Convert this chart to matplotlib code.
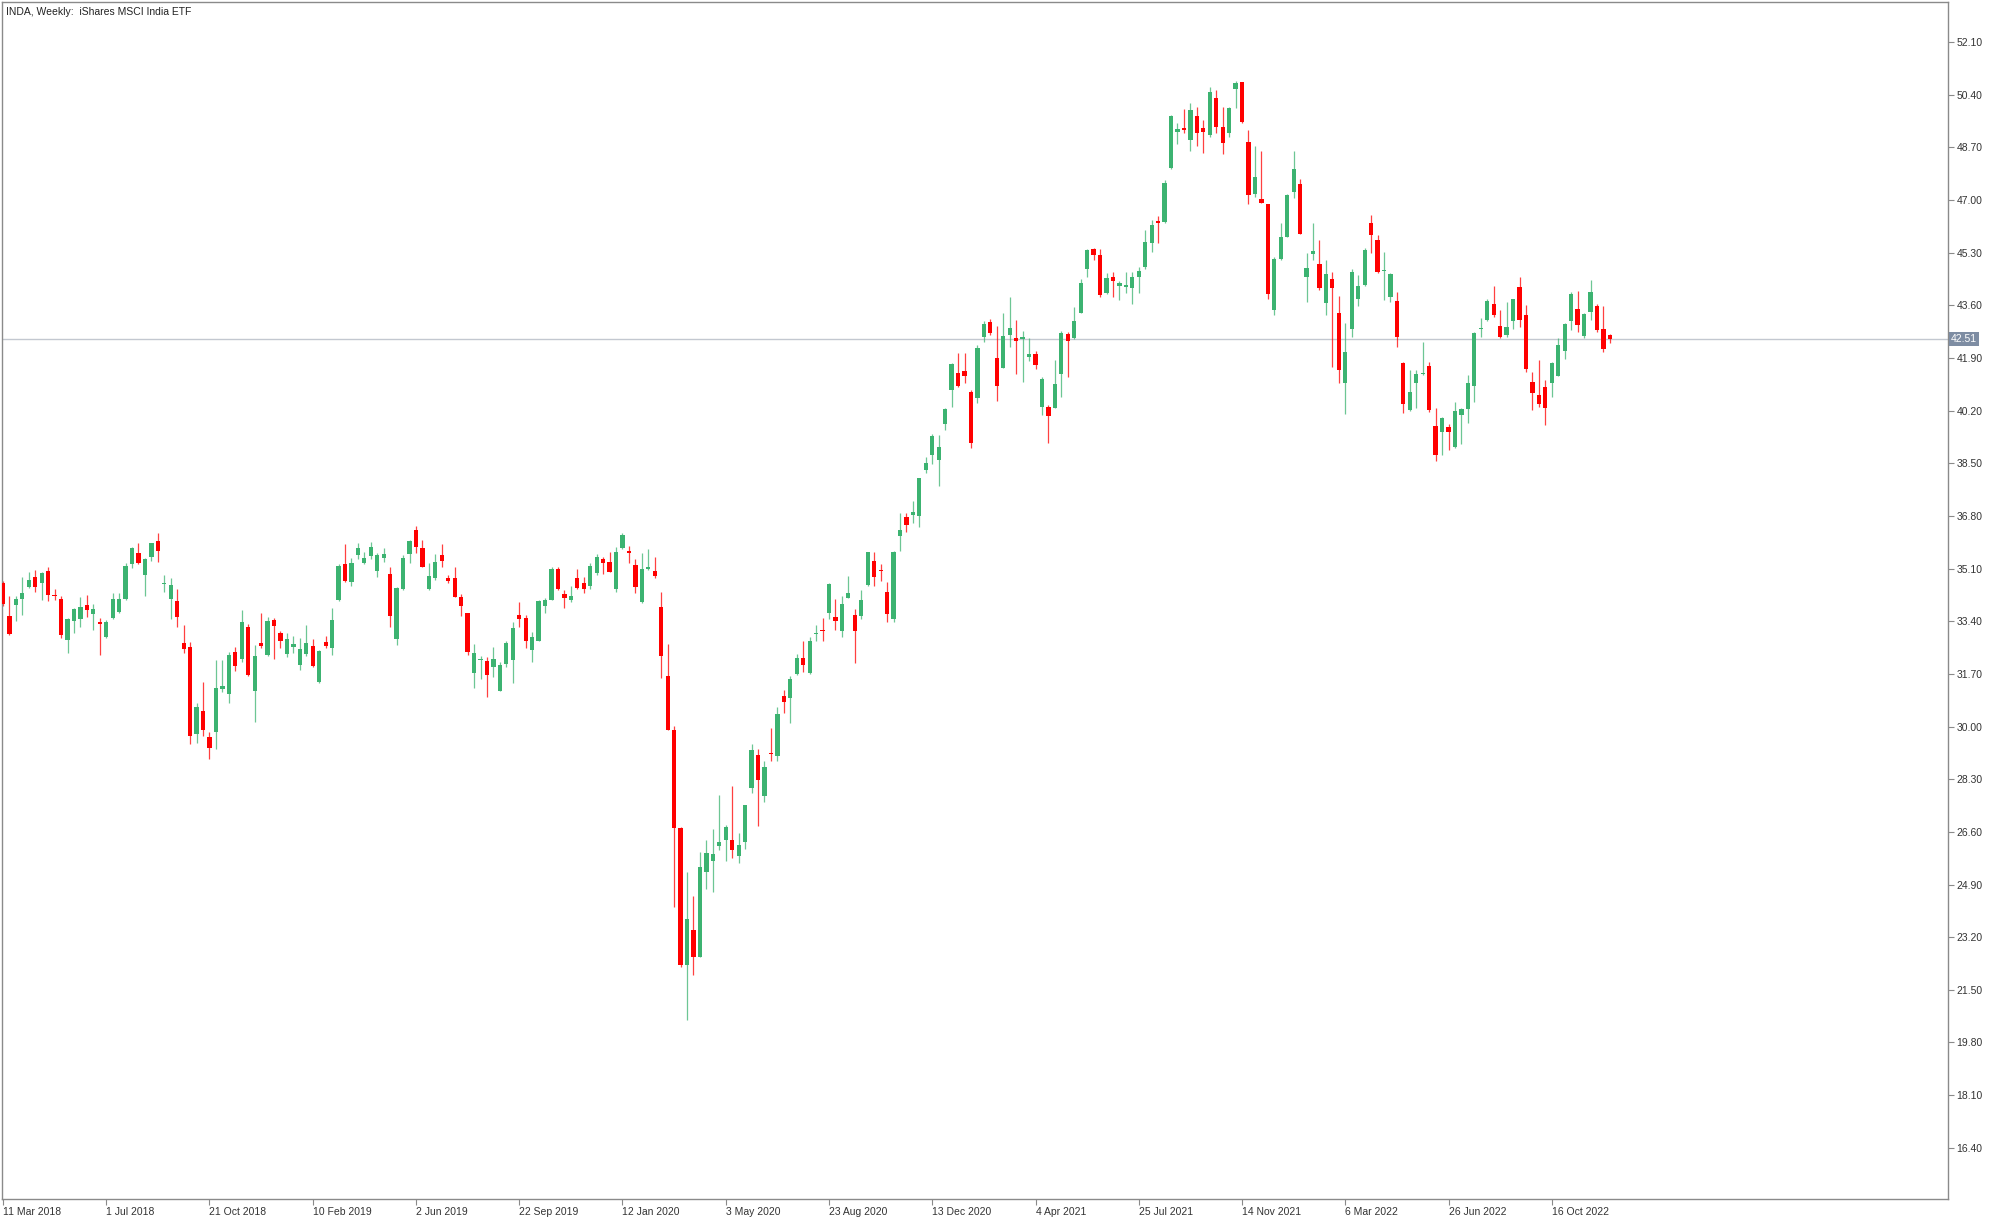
import numpy as np
import pandas as pd
import matplotlib
matplotlib.use('Agg')
import matplotlib.pyplot as plt
import matplotlib.transforms as mtransforms


# ─── Data: weekly OHLC for INDA, starting 11 Mar 2018 ─────────────────────────

start_date = '2018-03-11'

opens = [
    34.65, 33.57, 33.93, 34.12, 34.50, 34.84, 34.63, 35.03, 34.25, 34.11,
    32.78, 33.42, 33.47, 33.93, 33.64, 33.39, 32.88, 33.50, 33.71, 34.11,
    35.24, 35.60, 34.89, 35.49, 35.99, 34.60, 34.11, 34.06, 32.71, 32.56,
    29.76, 30.51, 29.65, 29.84, 31.20, 31.04, 32.40, 32.17, 33.23, 31.16,
    32.69, 32.31, 33.44, 33.03, 32.33, 32.56, 31.99, 32.33, 32.60, 31.45,
    32.72, 32.53, 34.09, 35.25, 34.68, 35.54, 35.29, 35.52, 35.03, 35.45,
    34.93, 32.82, 34.43, 35.56, 36.35, 35.78, 34.43, 34.79, 35.54, 34.79,
    34.79, 34.19, 33.66, 31.72, 32.14, 32.13, 31.91, 31.16, 32.01, 32.15,
    33.60, 33.49, 32.47, 32.77, 33.90, 34.09, 35.08, 34.28, 34.07, 34.79,
    34.65, 34.54, 34.95, 35.41, 35.32, 34.43, 35.76, 35.67, 35.22, 34.03,
    35.08, 35.02, 33.85, 31.64, 29.88, 26.71, 22.30, 23.43, 22.57, 25.31,
    25.67, 26.15, 26.33, 26.35, 25.82, 26.28, 28.03, 29.08, 27.76, 29.16,
    29.06, 30.98, 30.91, 31.69, 32.20, 31.73, 32.98, 33.13, 33.68, 33.54,
    33.09, 34.16, 33.60, 33.58, 34.57, 35.35, 35.05, 34.33, 33.46, 36.16,
    36.75, 36.83, 36.79, 38.28, 38.76, 38.62, 39.77, 40.87, 41.41, 41.49,
    40.81, 40.60, 42.59, 43.05, 41.91, 41.59, 42.64, 42.53, 42.52, 41.92,
    42.03, 40.31, 40.33, 40.30, 41.37, 42.66, 42.54, 43.35, 44.77, 45.41,
    45.23, 43.99, 44.51, 44.21, 44.19, 44.15, 44.50, 44.85, 45.61, 46.33,
    46.30, 48.02, 49.21, 49.31, 48.94, 49.71, 49.31, 49.10, 50.28, 49.35,
    49.17, 50.57, 50.80, 48.88, 47.19, 47.02, 46.87, 43.45, 45.08, 45.81,
    47.27, 47.52, 44.50, 45.26, 44.95, 43.66, 44.44, 43.36, 41.10, 42.85,
    43.79, 44.25, 46.25, 45.71, 44.71, 43.88, 43.74, 41.74, 40.22, 41.10,
    41.38, 41.64, 39.70, 39.52, 39.66, 39.03, 40.05, 40.24, 41.00, 42.82,
    43.12, 43.63, 42.94, 42.64, 43.10, 44.20, 43.28, 41.13, 40.70, 40.97,
    41.08, 41.32, 42.13, 43.10, 43.48, 42.62, 43.39, 43.57, 42.82, 42.64,
]

highs = [
    34.70, 34.20, 34.22, 34.84, 35.00, 35.06, 35.00, 35.14, 34.44, 34.20,
    33.50, 33.82, 34.18, 34.25, 33.96, 33.50, 33.44, 34.30, 34.30, 35.27,
    35.79, 35.92, 35.44, 35.94, 36.24, 34.90, 34.79, 34.44, 33.28, 32.74,
    30.75, 31.45, 29.84, 32.15, 32.15, 32.42, 32.58, 33.77, 33.31, 32.64,
    33.68, 33.55, 33.50, 33.07, 33.03, 32.91, 32.85, 33.28, 32.82, 32.47,
    32.93, 33.82, 35.24, 35.88, 35.43, 35.94, 35.62, 35.95, 35.59, 35.78,
    35.16, 34.52, 35.54, 36.02, 36.48, 36.02, 35.27, 35.56, 35.88, 34.89,
    35.14, 34.28, 33.68, 32.65, 32.29, 32.26, 32.56, 32.10, 32.77, 33.39,
    34.03, 33.60, 33.04, 34.09, 34.14, 35.16, 35.16, 34.41, 34.54, 35.08,
    34.84, 35.27, 35.57, 35.49, 35.63, 35.81, 36.24, 35.83, 35.40, 35.59,
    35.72, 35.46, 34.33, 32.65, 30.02, 26.75, 25.31, 24.52, 25.96, 26.33,
    26.68, 27.79, 26.82, 28.08, 26.55, 27.48, 29.45, 29.29, 28.89, 29.94,
    30.64, 31.17, 31.63, 32.34, 32.77, 32.90, 33.27, 33.49, 34.62, 34.11,
    34.21, 34.86, 33.81, 34.40, 35.64, 35.64, 35.24, 34.67, 35.67, 36.88,
    36.88, 37.29, 38.04, 38.69, 39.46, 39.41, 40.30, 41.75, 42.05, 42.05,
    40.87, 42.32, 43.11, 43.15, 42.93, 43.34, 43.86, 43.13, 42.78, 42.54,
    42.13, 41.28, 40.38, 41.82, 42.78, 42.75, 43.54, 44.45, 45.41, 45.44,
    45.41, 44.64, 44.66, 44.37, 44.66, 44.69, 44.85, 46.04, 46.36, 46.49,
    47.65, 49.74, 49.50, 49.93, 50.12, 50.01, 49.58, 50.66, 50.55, 49.99,
    50.01, 50.84, 50.80, 49.26, 48.74, 48.59, 46.87, 45.17, 46.27, 47.21,
    48.59, 47.67, 45.30, 46.27, 45.71, 45.06, 44.68, 43.90, 43.04, 44.76,
    44.58, 45.44, 46.51, 45.87, 45.33, 44.63, 44.02, 41.78, 41.51, 41.51,
    42.40, 41.78, 40.27, 40.00, 39.78, 40.48, 40.27, 41.35, 42.75, 43.18,
    43.79, 44.22, 43.45, 43.71, 43.82, 44.50, 43.61, 41.45, 41.85, 41.18,
    41.78, 42.53, 43.04, 44.04, 44.07, 43.34, 44.41, 43.63, 43.57, 42.66,
]

lows = [
    33.90, 32.95, 33.42, 33.60, 34.47, 34.36, 34.09, 34.04, 34.07, 32.85,
    32.39, 33.03, 33.21, 33.55, 33.12, 32.31, 32.85, 33.47, 33.68, 34.09,
    35.11, 35.24, 34.22, 35.35, 35.31, 34.36, 33.48, 33.23, 32.39, 29.43,
    29.48, 29.70, 28.94, 29.27, 31.13, 30.77, 31.78, 32.10, 31.64, 30.14,
    32.53, 32.28, 32.17, 32.53, 32.26, 32.37, 31.83, 32.28, 31.92, 31.42,
    32.53, 32.31, 34.04, 34.68, 34.55, 35.40, 35.25, 35.41, 34.84, 35.30,
    33.23, 32.63, 34.41, 35.27, 35.59, 35.14, 34.41, 34.73, 35.14, 34.63,
    34.17, 33.57, 32.31, 31.23, 31.52, 30.94, 31.61, 31.16, 31.91, 31.40,
    33.20, 32.53, 32.09, 32.77, 33.68, 34.07, 34.41, 33.84, 34.03, 34.44,
    34.30, 34.43, 34.89, 34.93, 34.99, 34.36, 35.72, 35.27, 34.32, 33.98,
    35.06, 34.79, 31.56, 29.88, 24.18, 22.25, 20.52, 21.97, 22.55, 24.77,
    24.66, 26.03, 25.67, 25.74, 25.58, 26.06, 27.84, 26.78, 27.57, 28.89,
    28.89, 30.45, 30.12, 31.66, 31.77, 31.69, 32.77, 32.77, 33.47, 33.11,
    32.88, 34.14, 32.06, 33.47, 34.54, 34.54, 34.71, 33.38, 33.38, 35.66,
    36.29, 36.56, 36.43, 38.19, 38.47, 37.76, 39.57, 40.33, 40.95, 41.08,
    38.98, 40.44, 42.43, 42.64, 40.52, 41.57, 42.27, 41.37, 41.12, 41.81,
    41.55, 40.06, 39.15, 40.28, 40.65, 41.30, 42.50, 43.34, 44.51, 45.07,
    43.88, 43.97, 43.86, 43.78, 44.01, 43.65, 44.01, 44.78, 45.32, 45.61,
    46.25, 47.99, 48.81, 49.17, 48.59, 48.74, 48.53, 49.04, 49.15, 48.48,
    49.02, 49.96, 49.50, 46.87, 47.09, 46.89, 43.82, 43.29, 45.06, 45.79,
    47.05, 45.90, 43.72, 45.06, 44.11, 43.29, 41.60, 41.10, 40.09, 42.59,
    43.58, 44.22, 45.28, 44.63, 43.77, 43.71, 42.26, 40.11, 40.19, 40.27,
    41.35, 40.16, 38.58, 38.76, 38.92, 38.98, 39.12, 39.81, 40.48, 42.58,
    43.10, 43.23, 42.56, 42.58, 42.85, 42.91, 41.45, 40.22, 40.32, 39.73,
    40.65, 41.31, 41.88, 42.80, 42.75, 42.56, 43.12, 42.75, 42.08, 42.39,
]

closes = [
    33.96, 32.98, 34.12, 34.30, 34.74, 34.50, 34.97, 34.25, 34.20, 32.95,
    33.46, 33.79, 33.85, 33.75, 33.79, 33.30, 33.36, 34.11, 34.12, 35.19,
    35.76, 35.27, 35.40, 35.92, 35.67, 34.62, 34.57, 33.55, 32.50, 29.68,
    30.62, 29.89, 29.30, 31.24, 31.31, 32.31, 31.94, 33.39, 31.67, 32.28,
    32.60, 33.41, 33.26, 32.77, 32.82, 32.66, 32.51, 32.69, 31.97, 32.45,
    32.60, 33.44, 35.17, 34.70, 35.27, 35.75, 35.43, 35.81, 35.54, 35.57,
    33.57, 34.46, 35.45, 35.99, 35.81, 35.16, 34.86, 35.32, 35.36, 34.71,
    34.19, 33.89, 32.42, 32.36, 32.17, 31.66, 32.17, 31.99, 32.71, 33.17,
    33.47, 32.77, 32.90, 34.05, 34.09, 35.08, 34.43, 34.14, 34.22, 34.46,
    34.43, 35.19, 35.49, 35.29, 35.00, 35.63, 36.19, 35.59, 34.52, 35.09,
    35.16, 34.86, 32.28, 29.88, 26.71, 22.30, 23.80, 22.57, 25.47, 25.93,
    25.87, 26.26, 26.76, 26.03, 26.17, 27.48, 29.24, 28.27, 28.68, 29.11,
    30.40, 30.80, 31.55, 32.20, 31.98, 32.77, 33.00, 33.09, 34.59, 33.41,
    33.95, 34.30, 33.09, 34.08, 35.62, 34.83, 35.01, 33.63, 35.62, 36.36,
    36.50, 36.93, 38.04, 38.52, 39.39, 39.01, 40.24, 41.71, 40.98, 41.33,
    39.15, 42.21, 43.00, 42.70, 41.01, 42.61, 42.86, 42.45, 42.58, 42.03,
    41.67, 41.21, 40.03, 41.05, 42.72, 42.45, 43.11, 44.31, 45.39, 45.23,
    43.94, 44.48, 44.39, 44.31, 44.26, 44.53, 44.72, 45.66, 46.20, 46.27,
    47.56, 49.71, 49.28, 49.26, 49.91, 49.15, 49.20, 50.48, 49.37, 48.85,
    49.96, 50.77, 49.53, 47.16, 47.75, 46.89, 43.96, 45.09, 45.81, 47.16,
    47.99, 45.90, 44.79, 45.36, 44.15, 44.60, 44.15, 41.51, 42.10, 44.68,
    44.22, 45.38, 45.87, 44.66, 44.74, 44.60, 42.58, 40.43, 40.81, 41.37,
    41.42, 40.22, 38.76, 39.97, 39.52, 40.18, 40.24, 41.10, 42.71, 42.85,
    43.75, 43.28, 42.58, 42.91, 43.79, 43.12, 41.56, 40.78, 40.43, 40.30,
    41.74, 42.31, 42.99, 43.98, 42.96, 43.32, 44.02, 42.80, 42.19, 42.51,
]

last_price = 42.51

# date labels, one every 16 weeks
x_tick_every = 16
x_labels = ['11 Mar 2018', '1 Jul 2018', '21 Oct 2018', '10 Feb 2019',
            '2 Jun 2019', '22 Sep 2019', '12 Jan 2020', '3 May 2020',
            '23 Aug 2020', '13 Dec 2020', '4 Apr 2021', '25 Jul 2021',
            '14 Nov 2021', '6 Mar 2022', '26 Jun 2022', '16 Oct 2022']

y_ticks = [16.40, 18.10, 19.80, 21.50, 23.20, 24.90, 26.60, 28.30, 30.00,
           31.70, 33.40, 35.10, 36.80, 38.50, 40.20, 41.90, 43.60, 45.30,
           47.00, 48.70, 50.40, 52.10]

title = 'INDA, Weekly:  iShares MSCI India ETF'


# ─── Prepare arrays ───────────────────────────────────────────────────────────

o = np.array(opens)
h = np.array(highs)
l = np.array(lows)
c = np.array(closes)
dates = pd.date_range(start_date, periods=len(o), freq='7D')
x = np.arange(len(dates))

up = c >= o
green = '#3CB371'
red = '#FF0000'
colors = np.where(up, green, red)

body_bottom = np.minimum(o, c)
body_height = np.maximum(np.abs(c - o), 0.04)


# ─── Figure ───────────────────────────────────────────────────────────────────

plt.rcParams['font.family'] = ['Liberation Sans', 'DejaVu Sans']

fig = plt.figure(figsize=(19.99, 12.22), dpi=100)
ax = fig.add_axes([0.001, 0.0188, 0.9735, 0.9796])


# ─── Candles ──────────────────────────────────────────────────────────────────

ax.vlines(x, l, h, colors=colors, linewidth=0.9, alpha=0.75, zorder=2)
ax.bar(x, body_height, bottom=body_bottom, width=0.66, color=colors,
       linewidth=0, zorder=3)


# ─── Current price line and label ─────────────────────────────────────────────

ax.axhline(last_price, color='#C3C8D0', linewidth=1.0, zorder=1)
trans = mtransforms.blended_transform_factory(ax.transAxes, ax.transData)
ax.text(1.0015, last_price, f'{last_price:.2f}', transform=trans,
        fontsize=7.5, color='white', va='center', ha='left', clip_on=False,
        bbox=dict(facecolor='#7E8DA3', edgecolor='none', pad=1.6))


# ─── Axes styling ─────────────────────────────────────────────────────────────

ax.set_xlim(-0.15, 301.4)
ax.set_ylim(14.745, 53.395)

for sp in ax.spines.values():
    sp.set_color('#8A8A8A')
    sp.set_linewidth(1.0)

ax.yaxis.tick_right()
ax.set_yticks(y_ticks)
ax.set_yticklabels([f'{v:.2f}' for v in y_ticks])
ax.tick_params(axis='y', direction='out', length=4, width=0.8,
               color='#8A8A8A', pad=2, labelsize=7.5, labelcolor='#333333')

x_pos = np.arange(len(x_labels)) * x_tick_every
ax.set_xticks(x_pos)
ax.set_xticklabels(x_labels, ha='left')
ax.tick_params(axis='x', direction='out', length=4, width=0.8,
               color='#8A8A8A', pad=2, labelsize=7.5, labelcolor='#333333')

ax.text(4 / 1999 / 0.9735, 0.9915, title, transform=ax.transAxes,
        fontsize=7.5, color='#222222', va='center', ha='left')

fig.savefig('out.png', dpi=100)
